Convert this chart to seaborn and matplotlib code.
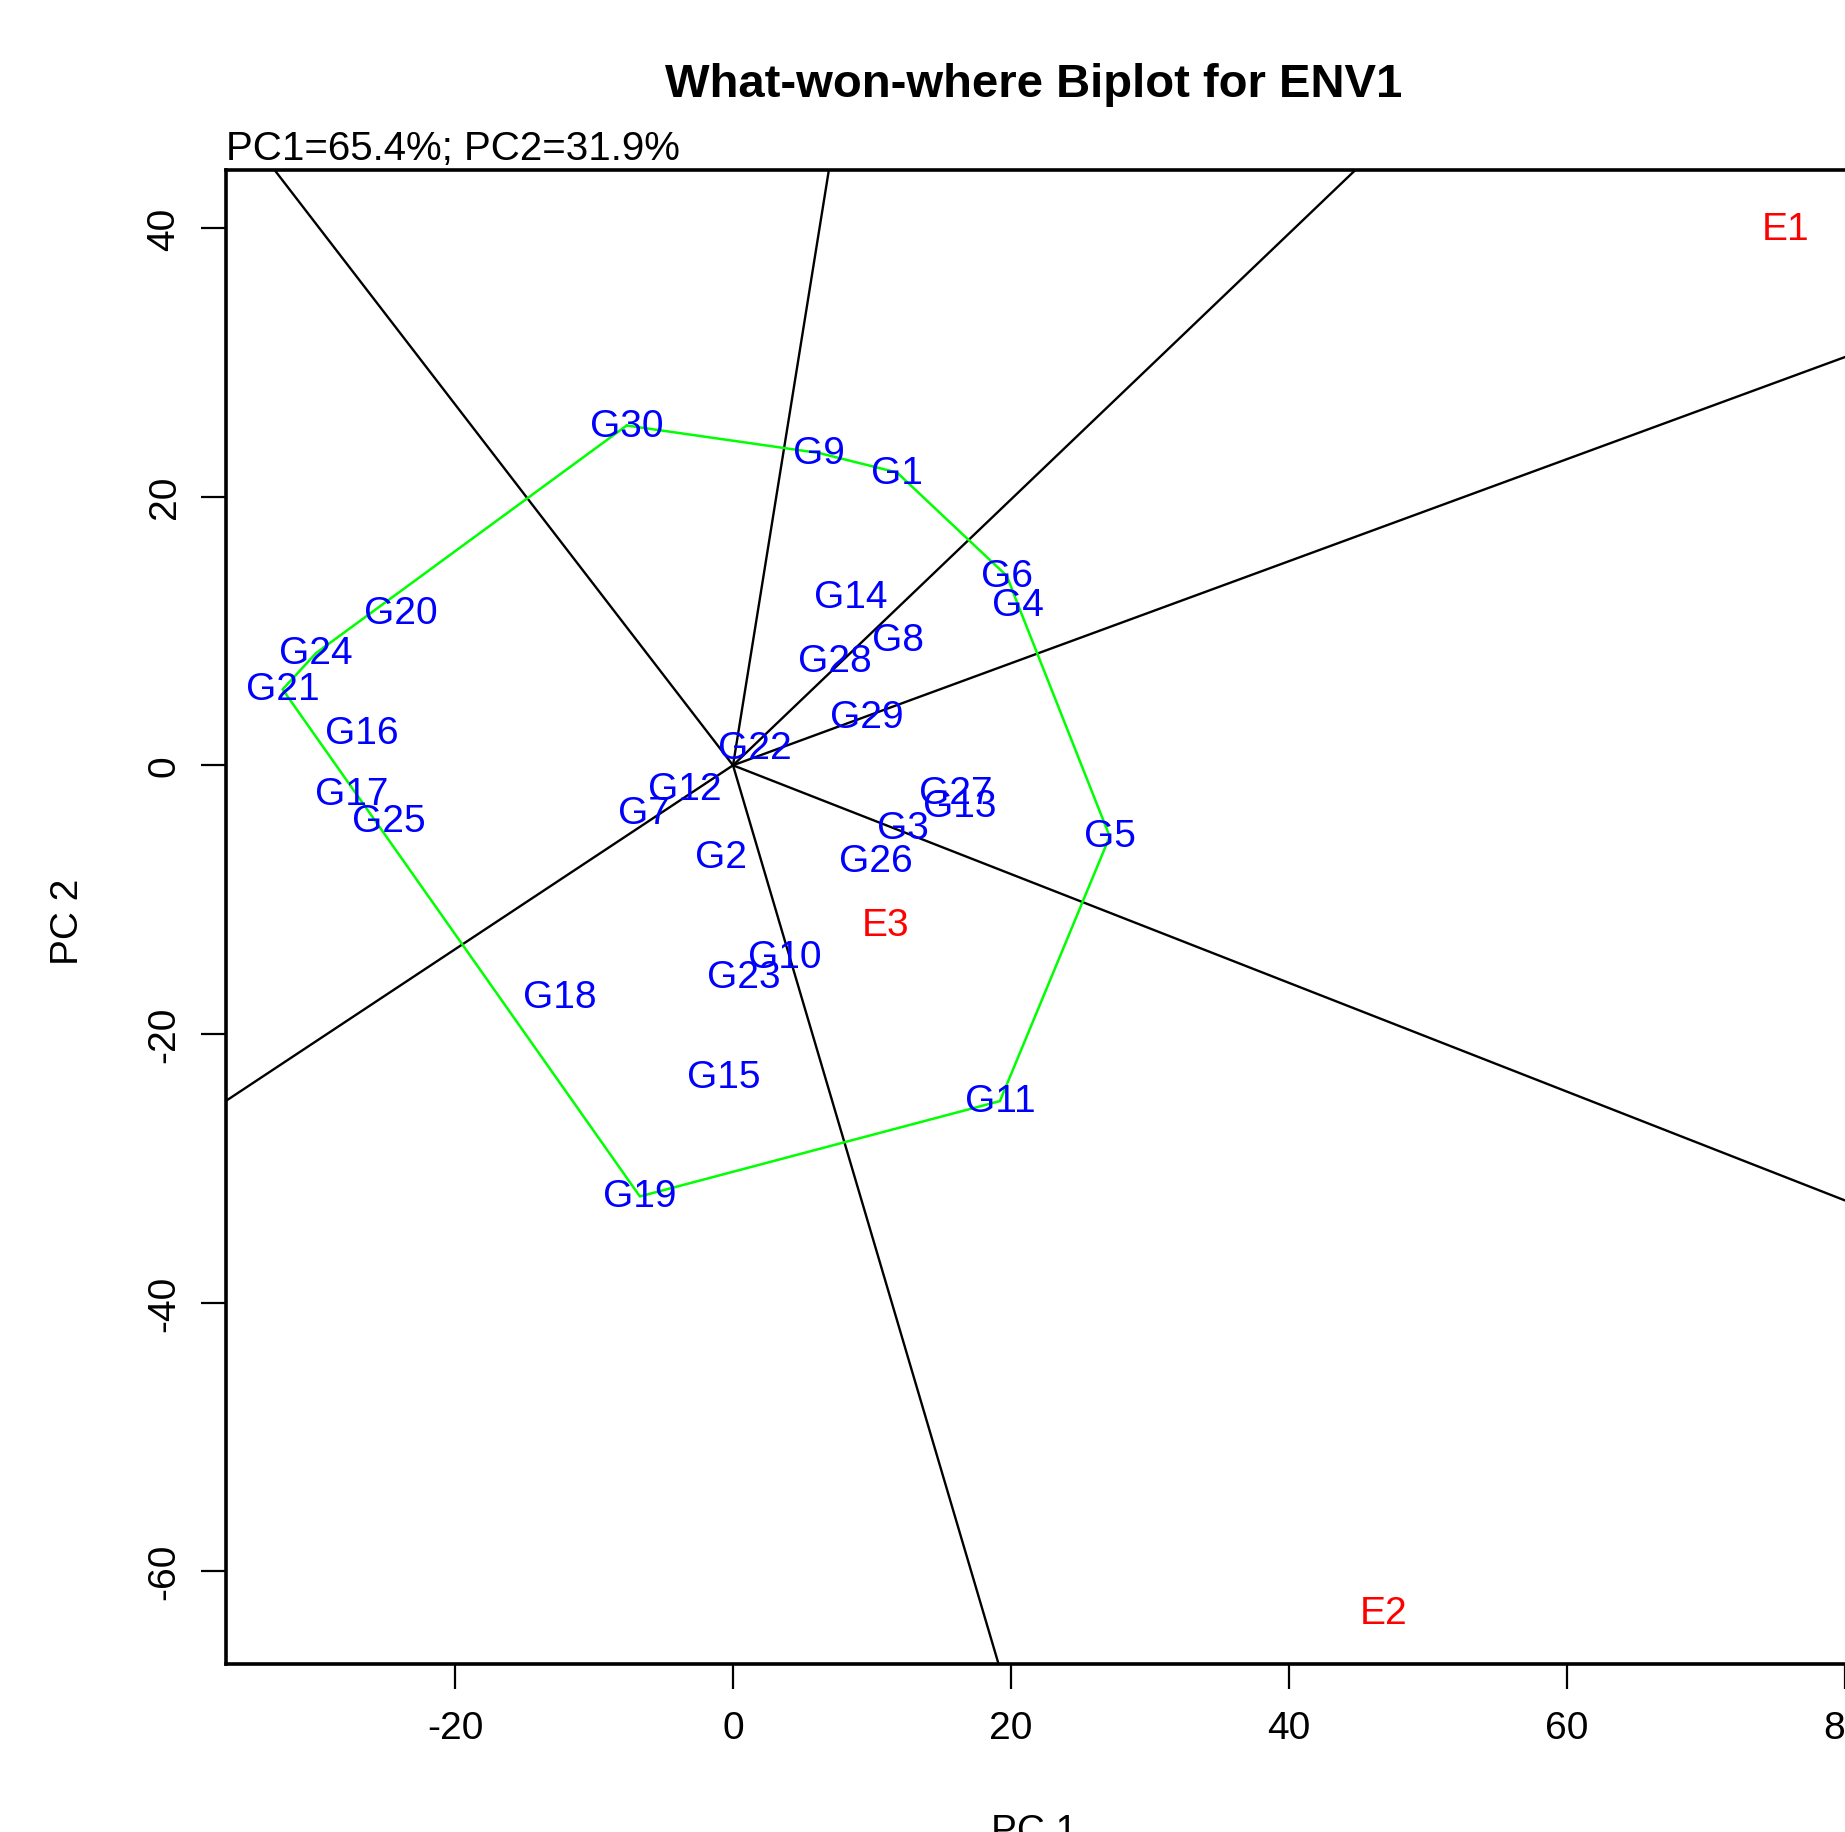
import matplotlib
matplotlib.use("Agg")
import matplotlib.pyplot as plt
import seaborn as sns
import numpy as np
import pandas as pd

# genotype scores (PC1, PC2)
genotypes = ["G1", "G2", "G3", "G4", "G5", "G6", "G7", "G8", "G9", "G10",
             "G11", "G12", "G13", "G14", "G15", "G16", "G17", "G18", "G19", "G20",
             "G21", "G22", "G23", "G24", "G25", "G26", "G27", "G28", "G29", "G30"]
gen_pc1 = [11.8, -0.9, 12.2, 20.5, 27.1, 19.7, -6.4, 11.9, 6.2, 3.7,
           19.2, -3.45, 16.3, 8.5, -0.65, -26.7, -27.4, -12.45, -6.7, -23.9,
           -32.4, 1.6, 0.75, -30.0, -24.75, 10.25, 16.0, 7.35, 9.65, -7.65]
gen_pc2 = [21.8, -6.8, -4.7, 11.95, -5.3, 14.1, -3.55, 9.3, 23.25, -14.3,
           -25.0, -1.75, -3.0, 12.55, -23.2, 2.4, -2.1, -17.25, -32.1, 11.35,
           5.65, 1.3, -15.75, 8.35, -4.15, -7.15, -2.05, 7.8, 3.6, 25.3]

environments = ["E1", "E2", "E3"]
env_pc1 = [75.7, 46.8, 10.95]
env_pc2 = [39.9, -63.1, -11.9]

# convex hull (polygon) vertices, in drawing order
hull = ["G30", "G9", "G1", "G6", "G4", "G5", "G11", "G19", "G21", "G24", "G30"]

# sector lines: where each ray from the origin leaves the plot region
ray_pc1 = [-33.0, 6.9, 44.8, 80.0, 80.0, 19.1, -36.5]
ray_pc2 = [44.35, 44.35, 44.35, 30.4, -32.4, -66.9, -25.0]

x_ticks = [-20, 0, 20, 40, 60, 80]
y_ticks = [-60, -40, -20, 0, 20, 40]

sns.set_theme(style="white")
plt.rcParams['font.family'] = ['Liberation Sans', 'DejaVu Sans']
plt.rcParams['text.color'] = 'black'
plt.rcParams['axes.labelcolor'] = 'black'

fig = plt.figure(figsize=(18.45, 18.33), dpi=100)
ax = fig.add_axes([0.1223, 0.0916, 0.8815, 0.8153])

gen = pd.DataFrame({"name": genotypes, "pc1": gen_pc1, "pc2": gen_pc2}).set_index("name")
poly = gen.loc[hull]

# sector lines from the origin
for rx, ry in zip(ray_pc1, ray_pc2):
    ax.plot([0, rx * 1.5], [0, ry * 1.5], color="black", lw=1.7, zorder=2)

# hull polygon
sns.lineplot(x=poly["pc1"].values, y=poly["pc2"].values, sort=False,
             estimator=None, color="#00ff00", lw=1.8, ax=ax, zorder=3)

for name, row in gen.iterrows():
    ax.text(row["pc1"], row["pc2"], name, color="#0000ff", fontsize=28,
            ha="center", va="center", zorder=4)
for name, x, y in zip(environments, env_pc1, env_pc2):
    ax.text(x, y, name, color="#ff0000", fontsize=28,
            ha="center", va="center", zorder=4)

ax.set_xlim(-36.5, 80.5)
ax.set_ylim(-66.92, 44.35)
ax.set_xticks(x_ticks)
ax.set_yticks(y_ticks)
ax.set_xticklabels([str(v) for v in x_ticks])
ax.set_yticklabels([str(v) for v in y_ticks], rotation=90, va="center")
ax.tick_params(axis="both", direction="out", length=18, width=1.6,
               labelsize=28, color="black", labelcolor="black")
ax.tick_params(axis="x", pad=15)
ax.tick_params(axis="y", pad=13)
ax.xaxis.set_ticks_position("bottom")
ax.yaxis.set_ticks_position("left")
for side in ["top", "bottom", "left", "right"]:
    ax.spines[side].set_color("black")
    ax.spines[side].set_linewidth(2.6)
ax.set_facecolor("white")
ax.grid(False)

fig.text(1034 / 1845, 1 - 96.7 / 1833, "What-won-where Biplot for ENV1",
         fontsize=34, fontweight="bold", ha="center", va="baseline", color="black")
fig.text(225.6 / 1845, 1 - 160 / 1833, "PC1=65.4%; PC2=31.9%",
         fontsize=29, ha="left", va="baseline", color="black")
fig.text(1034 / 1845, 1 - 1842 / 1833, "PC 1", fontsize=28,
         ha="center", va="baseline", color="black")
fig.text(68 / 1845, 1 - 922 / 1833, "PC 2", fontsize=28, rotation=90,
         ha="center", va="center", color="black")

fig.savefig("out.png", dpi=100, facecolor="white")
